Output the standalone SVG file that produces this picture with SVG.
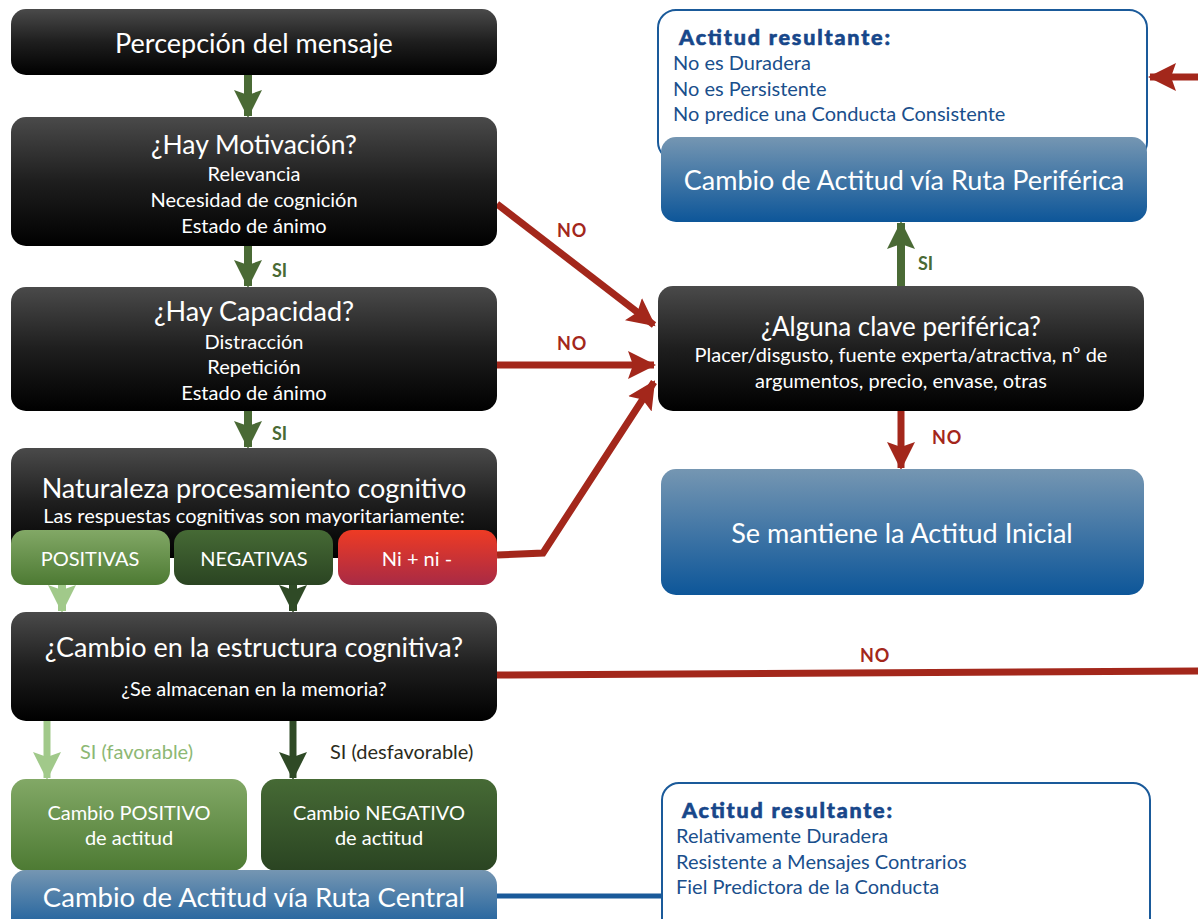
<svg xmlns="http://www.w3.org/2000/svg" width="1198" height="919" viewBox="0 0 1198 919">
<defs>
<linearGradient id="gDark" x1="0" y1="0" x2="0" y2="1">
<stop offset="0" stop-color="#4a4a4a"/><stop offset="0.5" stop-color="#1e1e1e"/><stop offset="1" stop-color="#000"/>
</linearGradient>
<linearGradient id="gBlue" x1="0" y1="0" x2="0" y2="1">
<stop offset="0" stop-color="#7596b2"/><stop offset="1" stop-color="#0d5699"/>
</linearGradient>
<linearGradient id="gLight" x1="0" y1="0" x2="0" y2="1">
<stop offset="0" stop-color="#82a866"/><stop offset="1" stop-color="#4d7a33"/>
</linearGradient>
<linearGradient id="gDkGreen" x1="0" y1="0" x2="0" y2="1">
<stop offset="0" stop-color="#466a35"/><stop offset="1" stop-color="#2a4422"/>
</linearGradient>
<linearGradient id="gRed" x1="0" y1="0" x2="0" y2="1">
<stop offset="0" stop-color="#ee3b24"/><stop offset="1" stop-color="#a82a45"/>
</linearGradient>
<marker id="mRed" markerUnits="userSpaceOnUse" markerWidth="30" markerHeight="30" refX="26" refY="15" orient="auto">
<path d="M0,1 L28,15 L0,29 L5,15 z" fill="#a3271b"/>
</marker>
<marker id="mGreen" markerUnits="userSpaceOnUse" markerWidth="30" markerHeight="30" refX="26" refY="15" orient="auto">
<path d="M0,1 L28,15 L0,29 L5,15 z" fill="#4a6a35"/>
</marker>
<marker id="mLight" markerUnits="userSpaceOnUse" markerWidth="30" markerHeight="30" refX="26" refY="15" orient="auto">
<path d="M0,1 L28,15 L0,29 L5,15 z" fill="#a1c98a"/>
</marker>
<marker id="mDkGreen" markerUnits="userSpaceOnUse" markerWidth="30" markerHeight="30" refX="26" refY="15" orient="auto">
<path d="M0,1 L28,15 L0,29 L5,15 z" fill="#2f4a26"/>
</marker>
</defs>
<style>
text{font-family:Lato,"Noto Sans","Liberation Sans",sans-serif}
.w{fill:#fff;text-anchor:middle}
.t27{font-size:27px}
.t20{font-size:20px}
.lbl{font-size:18px;font-weight:bold;fill:#a3271b;letter-spacing:1px}
.si{font-size:18px;font-weight:bold;fill:#4a6a35}
.bl{fill:#1a4f8c;font-size:20px}
.blt{fill:#17478a;stroke:#17478a;stroke-width:0.6px;font-size:21.5px;font-weight:900}
.red{fill:none;stroke:#a3271b;stroke-width:7}
</style>
<rect width="1198" height="919" fill="#fff"/>

<g id="connectors">
<line x1="248" y1="75" x2="248" y2="116" stroke="#4a6a35" stroke-width="8" marker-end="url(#mGreen)"/>
<line x1="248" y1="246" x2="248" y2="286" stroke="#4a6a35" stroke-width="8" marker-end="url(#mGreen)"/>
<line x1="248" y1="411" x2="248" y2="447" stroke="#4a6a35" stroke-width="8" marker-end="url(#mGreen)"/>
<line x1="62" y1="585" x2="62" y2="611" stroke="#a1c98a" stroke-width="8" marker-end="url(#mLight)"/>
<line x1="293" y1="585" x2="293" y2="611" stroke="#2f4a26" stroke-width="8" marker-end="url(#mDkGreen)"/>
<line x1="47" y1="721" x2="47" y2="778" stroke="#a1c98a" stroke-width="7" marker-end="url(#mLight)"/>
<line x1="293" y1="721" x2="293" y2="778" stroke="#2f4a26" stroke-width="7" marker-end="url(#mDkGreen)"/>
<line x1="497" y1="204" x2="654" y2="325" class="red" marker-end="url(#mRed)"/>
<line x1="497" y1="365" x2="654" y2="365" class="red" marker-end="url(#mRed)"/>
<polyline points="497,555 543,553 654,382" class="red" marker-end="url(#mRed)"/>
<line x1="901" y1="411" x2="901" y2="468" class="red" marker-end="url(#mRed)"/>
<line x1="901" y1="288" x2="901" y2="223" stroke="#4a6a35" stroke-width="8" marker-end="url(#mGreen)"/>
<polyline points="497,675 1215,671 1215,77 1150,77" class="red" marker-end="url(#mRed)"/>
<line x1="497" y1="896" x2="664" y2="896" stroke="#1a5a9a" stroke-width="5"/>
<text x="557" y="237" class="lbl">NO</text>
<text x="557" y="350" class="lbl">NO</text>
<text x="932" y="444" class="lbl">NO</text>
<text x="860" y="662" class="lbl">NO</text>
<text x="272" y="277" class="si">SI</text>
<text x="272" y="440" class="si">SI</text>
<text x="918" y="270" class="si">SI</text>
<text x="80" y="759" style="font-size:20px;fill:#8db874">SI (favorable)</text>
<text x="330" y="759" style="font-size:20px;fill:#2b2b20">SI (desfavorable)</text>
</g>

<g id="n-percepcion">
<rect x="11" y="9" width="486" height="66" rx="15" fill="url(#gDark)"/>
<text x="254" y="53" class="w t27">Percepción del mensaje</text>
</g>
<g id="n-motivacion">
<rect x="11" y="117" width="486" height="129" rx="15" fill="url(#gDark)"/>
<text x="254" y="154" class="w" style="font-size:26.5px">¿Hay Motivación?</text>
<text x="254" y="181" class="w t20">Relevancia</text>
<text x="254" y="207" class="w t20">Necesidad de cognición</text>
<text x="254" y="233" class="w t20">Estado de ánimo</text>
</g>
<g id="n-capacidad">
<rect x="11" y="287" width="486" height="124" rx="15" fill="url(#gDark)"/>
<text x="254" y="321" class="w t27">¿Hay Capacidad?</text>
<text x="254" y="349" class="w t20">Distracción</text>
<text x="254" y="374" class="w t20">Repetición</text>
<text x="254" y="400" class="w t20">Estado de ánimo</text>
</g>
<g id="n-naturaleza">
<rect x="11" y="448" width="486" height="110" rx="15" fill="url(#gDark)"/>
<text x="254" y="498" class="w t27">Naturaleza procesamiento cognitivo</text>
<text x="254" y="523" class="w t20">Las respuestas cognitivas son mayoritariamente:</text>
</g>
<g id="n-positivas">
<rect x="11" y="530" width="159" height="55" rx="14" fill="url(#gLight)"/>
<text x="90" y="566" class="w t20">POSITIVAS</text>
</g>
<g id="n-negativas">
<rect x="174" y="530" width="159" height="55" rx="14" fill="url(#gDkGreen)"/>
<text x="254" y="566" class="w t20">NEGATIVAS</text>
</g>
<g id="n-ni">
<rect x="338" y="530" width="159" height="55" rx="14" fill="url(#gRed)"/>
<text x="417" y="566" class="w t20">Ni + ni -</text>
</g>
<g id="n-cambio-estructura">
<rect x="11" y="612" width="486" height="109" rx="15" fill="url(#gDark)"/>
<text x="254" y="657" class="w t27">¿Cambio en la estructura cognitiva?</text>
<text x="254" y="696" class="w t20">¿Se almacenan en la memoria?</text>
</g>
<g id="n-positivo">
<rect x="11" y="779" width="236" height="92" rx="15" fill="url(#gLight)"/>
<text x="129" y="820" class="w t20">Cambio POSITIVO</text>
<text x="129" y="845" class="w t20">de actitud</text>
</g>
<g id="n-negativo">
<rect x="261" y="779" width="236" height="92" rx="15" fill="url(#gDkGreen)"/>
<text x="379" y="820" class="w t20">Cambio NEGATIVO</text>
<text x="379" y="845" class="w t20">de actitud</text>
</g>
<g id="n-central">
<rect x="11" y="870" width="486" height="70" rx="15" fill="url(#gBlue)"/>
<text x="254" y="907" class="w" style="font-size:27.5px">Cambio de Actitud vía Ruta Central</text>
</g>
<g id="n-resultante-central">
<rect x="662" y="783" width="488" height="160" rx="17" fill="#fff" stroke="#1a5a9a" stroke-width="2"/>
<text x="682" y="818" class="blt" textLength="210">Actitud resultante:</text>
<text x="676" y="843" class="bl">Relativamente Duradera</text>
<text x="676" y="869" class="bl">Resistente a Mensajes Contrarios</text>
<text x="676" y="894" class="bl">Fiel Predictora de la Conducta</text>
</g>
<g id="n-resultante-periferica">
<rect x="658" y="10" width="489" height="150" rx="18" fill="#fff" stroke="#1a5a9a" stroke-width="2"/>
<text x="679" y="45" class="blt" textLength="211">Actitud resultante:</text>
<text x="673" y="70" class="bl">No es Duradera</text>
<text x="673" y="96" class="bl">No es Persistente</text>
<text x="673" y="121" class="bl">No predice una Conducta Consistente</text>
</g>
<g id="n-periferica">
<rect x="661" y="137" width="486" height="85" rx="15" fill="url(#gBlue)"/>
<text x="904" y="190" class="w t27">Cambio de Actitud vía Ruta Periférica</text>
</g>
<g id="n-clave">
<rect x="658" y="286" width="486" height="125" rx="15" fill="url(#gDark)"/>
<text x="901" y="336" class="w" style="font-size:26px">¿Alguna clave periférica?</text>
<text x="901" y="362" class="w t20">Placer/disgusto, fuente experta/atractiva, nº de</text>
<text x="901" y="388" class="w t20">argumentos, precio, envase, otras</text>
</g>
<g id="n-mantiene">
<rect x="661" y="469" width="483" height="126" rx="15" fill="url(#gBlue)"/>
<text x="902" y="543" class="w t27">Se mantiene la Actitud Inicial</text>
</g>
</svg>
